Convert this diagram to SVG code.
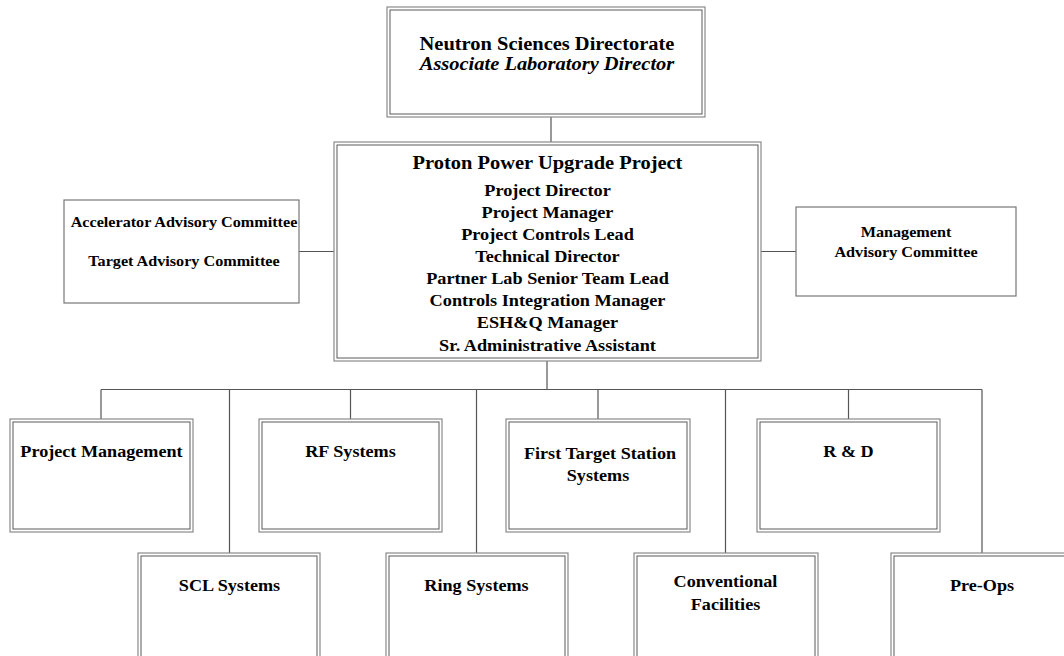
<svg xmlns="http://www.w3.org/2000/svg" width="1064" height="656" viewBox="0 0 1064 656">
<style>
.bg{fill:#fff}
.o{fill:#fff;stroke:#8a8a8a;stroke-width:1.2}
.i{fill:none;stroke:#5a5a5a;stroke-width:1}
.s{fill:#fff;stroke:#777;stroke-width:1.2}
.c{fill:none;stroke:#555;stroke-width:1.2}
text{font-family:"Liberation Serif","Times New Roman",serif;font-weight:bold;fill:#000;text-anchor:middle}
.t20{font-size:18.6px}
.t18{font-size:16.6px}
.t16{font-size:16.5px}
.t14{font-size:14.7px}
.it{font-style:italic}
</style>
<rect class="bg" x="0" y="0" width="1064" height="656"/>
<g id="connectors">
<line class="c" x1="551" y1="117" x2="551" y2="142"/>
<line class="c" x1="299" y1="251.5" x2="334" y2="251.5"/>
<line class="c" x1="761" y1="251.5" x2="796" y2="251.5"/>
<line class="c" x1="547" y1="361" x2="547" y2="389.5"/>
<line class="c" x1="101" y1="389.5" x2="982" y2="389.5"/>
<line class="c" x1="101" y1="389.5" x2="101" y2="419"/>
<line class="c" x1="350.5" y1="389.5" x2="350.5" y2="419"/>
<line class="c" x1="598" y1="389.5" x2="598" y2="419"/>
<line class="c" x1="848.5" y1="389.5" x2="848.5" y2="419"/>
<line class="c" x1="229.5" y1="389.5" x2="229.5" y2="553"/>
<line class="c" x1="476.5" y1="389.5" x2="476.5" y2="553"/>
<line class="c" x1="725.5" y1="389.5" x2="725.5" y2="553"/>
<line class="c" x1="982" y1="389.5" x2="982" y2="553"/>
</g>
<g id="nsd">
<rect class="o" x="387" y="7" width="318" height="110"/>
<rect class="i" x="390" y="10" width="312" height="104"/>
<text class="t20" transform="translate(547 50) scale(1.1 1)">Neutron Sciences Directorate</text>
<text class="t20 it" transform="translate(547 69.5) scale(1.1 1)">Associate Laboratory Director</text>
</g>
<g id="ppu">
<rect class="o" x="334" y="142" width="427" height="219"/>
<rect class="i" x="337" y="145" width="421" height="213"/>
<text class="t20" transform="translate(547.5 168.5) scale(1.1 1)">Proton Power Upgrade Project</text>
<text class="t18" transform="translate(547.5 196) scale(1.1 1)">Project Director</text>
<text class="t18" transform="translate(547.5 218) scale(1.1 1)">Project Manager</text>
<text class="t18" transform="translate(547.5 240) scale(1.1 1)">Project Controls Lead</text>
<text class="t18" transform="translate(547.5 262) scale(1.1 1)">Technical Director</text>
<text class="t18" transform="translate(547.5 284) scale(1.1 1)">Partner Lab Senior Team Lead</text>
<text class="t18" transform="translate(547.5 306) scale(1.1 1)">Controls Integration Manager</text>
<text class="t18" transform="translate(547.5 328) scale(1.1 1)">ESH&amp;Q Manager</text>
<text class="t18" transform="translate(547.5 350.5) scale(1.1 1)">Sr. Administrative Assistant</text>
</g>
<g id="advisory-left">
<rect class="s" x="64" y="200" width="235" height="103"/>
<text class="t14" transform="translate(184 227) scale(1.1 1)">Accelerator Advisory Committee</text>
<text class="t14" transform="translate(184 266) scale(1.1 1)">Target Advisory Committee</text>
</g>
<g id="advisory-right">
<rect class="s" x="796" y="207" width="220" height="89"/>
<text class="t14" transform="translate(906 237) scale(1.1 1)">Management</text>
<text class="t14" transform="translate(906 257) scale(1.1 1)">Advisory Committee</text>
</g>
<g id="pm">
<rect class="o" x="10" y="419" width="183" height="113"/>
<rect class="i" x="13" y="422" width="177" height="107"/>
<text class="t16" transform="translate(101.5 457) scale(1.1 1)">Project Management</text>
</g>
<g id="rf">
<rect class="o" x="259" y="419" width="183" height="113"/>
<rect class="i" x="262" y="422" width="177" height="107"/>
<text class="t16" transform="translate(350.5 457) scale(1.1 1)">RF Systems</text>
</g>
<g id="fts">
<rect class="o" x="506" y="419" width="184" height="113"/>
<rect class="i" x="509" y="422" width="178" height="107"/>
<text class="t16" transform="translate(600 458.5) scale(1.1 1)">First Target Station</text>
<text class="t16" transform="translate(598 480.5) scale(1.1 1)">Systems</text>
</g>
<g id="rd">
<rect class="o" x="757" y="419" width="183" height="113"/>
<rect class="i" x="760" y="422" width="177" height="107"/>
<text class="t16" transform="translate(848.5 457) scale(1.1 1)">R &amp; D</text>
</g>
<g id="scl">
<rect class="o" x="138" y="553" width="182" height="115"/>
<rect class="i" x="141" y="556" width="176" height="115"/>
<text class="t16" transform="translate(229.5 591) scale(1.1 1)">SCL Systems</text>
</g>
<g id="ring">
<rect class="o" x="386" y="553" width="182" height="115"/>
<rect class="i" x="389" y="556" width="176" height="115"/>
<text class="t16" transform="translate(476.5 591) scale(1.1 1)">Ring Systems</text>
</g>
<g id="cf">
<rect class="o" x="634" y="553" width="184" height="115"/>
<rect class="i" x="637" y="556" width="178" height="115"/>
<text class="t16" transform="translate(725.5 586.5) scale(1.1 1)">Conventional</text>
<text class="t16" transform="translate(725.5 609.5) scale(1.1 1)">Facilities</text>
</g>
<g id="preops">
<rect class="o" x="891" y="553" width="184" height="115"/>
<rect class="i" x="894" y="556" width="178" height="115"/>
<text class="t16" transform="translate(982 591) scale(1.1 1)">Pre-Ops</text>
</g>
</svg>
